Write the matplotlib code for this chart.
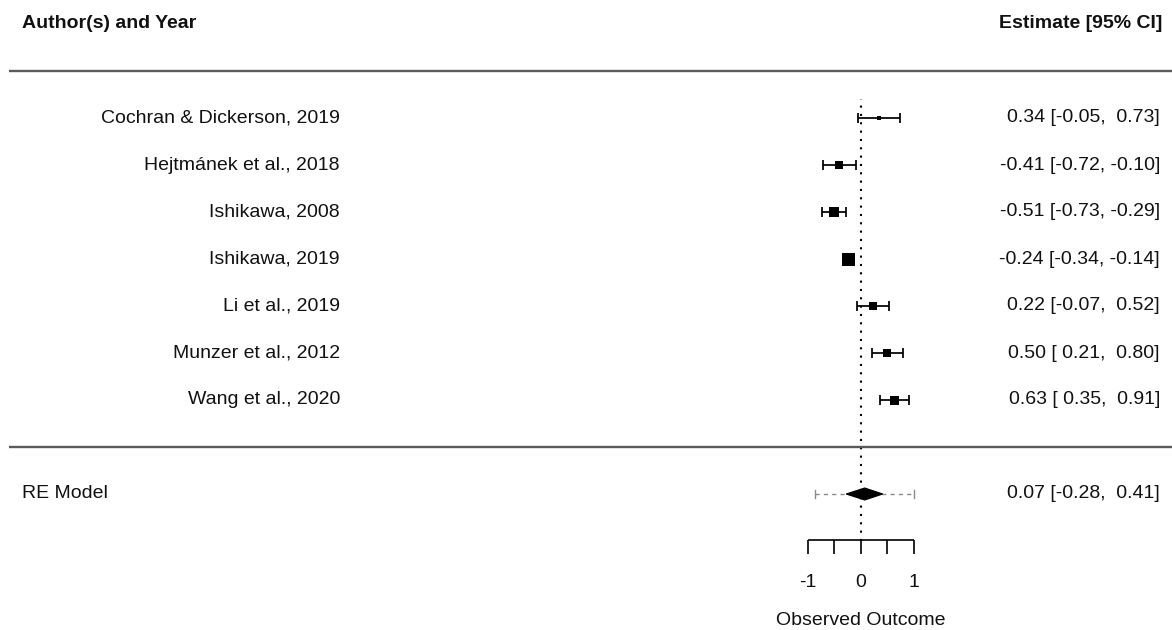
import numpy as np
import matplotlib
matplotlib.use("Agg")
import matplotlib.pyplot as plt
from matplotlib.patches import Polygon

plt.rcParams['font.family'] = ['Liberation Sans', 'DejaVu Sans']

# study data
studies = ["Cochran & Dickerson, 2019", "Hejtmánek et al., 2018", "Ishikawa, 2008",
           "Ishikawa, 2019", "Li et al., 2019", "Munzer et al., 2012", "Wang et al., 2020"]
est = [0.34, -0.41, -0.51, -0.24, 0.22, 0.50, 0.63]
ci_lb = [-0.05, -0.72, -0.73, -0.34, -0.07, 0.21, 0.35]
ci_ub = [0.73, -0.10, -0.29, -0.14, 0.52, 0.80, 0.91]

# pooled random-effects model
re_est = 0.07
re_lb = -0.28
re_ub = 0.41
pi_lb = -0.87
pi_ub = 1.00

xticks = [-1, -0.5, 0, 0.5, 1]
xticklabels = ["-1", "", "0", "", "1"]

# marker sizes in pixels
psize_px = [4, 8, 10, 13, 8, 8, 9]

px = 72 / 100.0  # points per pixel at dpi 100
fs = 14

fig = plt.figure(figsize=(11.72, 6.30), dpi=100)
ax = fig.add_axes([0, 0, 1, 1])
ax.set_xlim(-861 / 53, (1172 - 861) / 53)
ax.set_ylim(7 - 512 / 47, 7 + 118 / 47)
ax.axis("off")

k = len(studies)
rows = np.arange(k, 0, -1)

# reference line
ax.plot([0, 0], [-2, k + 0.4], color="black", lw=1.5, ls=(0, (1, 3)), zorder=1)

# separator lines
xl = ax.get_xlim()
x_left = xl[0] + 9 / 53
for yy in [k + 1, 0]:
    ax.plot([x_left, xl[1]], [yy, yy], color="#5a5a5a", lw=1.7, solid_capstyle="butt")

# studies
for i in range(k):
    y = rows[i]
    ax.errorbar(est[i], y, xerr=[[est[i] - ci_lb[i]], [ci_ub[i] - est[i]]],
                fmt="none", ecolor="black", elinewidth=1.25, capsize=3.3, capthick=1.25, zorder=2)
    ax.plot(est[i], y, marker="s", color="black", ms=psize_px[i] * px, mew=0, zorder=3)
    ax.text(-861 / 53 + 340 / 53, y, studies[i], ha="right", va="center", fontsize=fs, color="#111111")
    lab = f"{est[i]:.2f} [{ci_lb[i]:5.2f}, {ci_ub[i]:5.2f}]"
    ax.text(xl[1] - 12 / 53, y, lab, ha="right", va="center", fontsize=fs, color="#111111")

# RE model
yre = -1
ax.plot([pi_lb, pi_ub], [yre, yre], color="#8a8a8a", lw=1.0, ls=(0, (3, 3)), zorder=2)
ax.plot([pi_lb, pi_lb], [yre - 0.09, yre + 0.09], color="#8a8a8a", lw=1.0)
ax.plot([pi_ub, pi_ub], [yre - 0.09, yre + 0.09], color="#8a8a8a", lw=1.0)
h = 6 / 47
ax.add_patch(Polygon([[re_lb, yre], [re_est, yre + h], [re_ub, yre], [re_est, yre - h]],
                     closed=True, facecolor="black", edgecolor="black", lw=0.8, zorder=3))
ax.text(x_left + 13 / 53, yre, "RE Model", ha="left", va="center", fontsize=fs, color="#111111")
ax.text(xl[1] - 12 / 53, yre, f"{re_est:.2f} [{re_lb:5.2f}, {re_ub:5.2f}]",
        ha="right", va="center", fontsize=fs, color="#111111")

# headers
ax.text(x_left + 13 / 53, k + 2, "Author(s) and Year", ha="left", va="center",
        fontsize=fs, fontweight="bold", color="#111111")
ax.text(xl[1] - 10 / 53, k + 2, "Estimate [95% CI]", ha="right", va="center",
        fontsize=fs, fontweight="bold", color="#111111")

# x axis
yax = -1.98
ax.plot([xticks[0], xticks[-1]], [yax, yax], color="black", lw=1.2, solid_capstyle="butt")
for t, tl in zip(xticks, xticklabels):
    ax.plot([t, t], [yax, yax - 0.29], color="black", lw=1.2, solid_capstyle="butt")
    if tl:
        ax.text(t, yax - 0.9, tl, ha="center", va="center", fontsize=fs, color="#111111")
ax.text(0, yax - 1.72, "Observed Outcome", ha="center", va="center", fontsize=fs, color="#111111")

fig.savefig("out.png", dpi=100)
